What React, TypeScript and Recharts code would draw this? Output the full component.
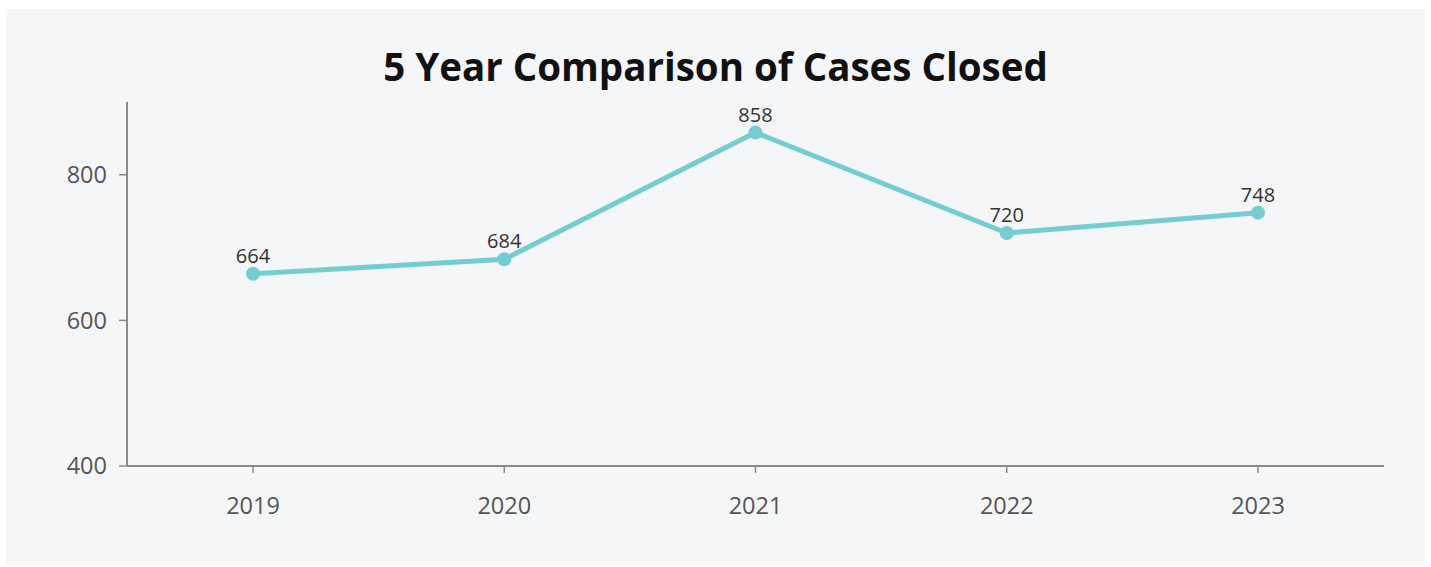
import React from "react";
import { CartesianGrid, LabelList, Line, LineChart, XAxis, YAxis } from "recharts";

const years = ["2019", "2020", "2021", "2022", "2023"];
const casesClosed = [664, 684, 858, 720, 748];
const yTicks = [400, 600, 800];

const data = years.map((year, i) => ({ year, cases: casesClosed[i] }));

const TEAL = "#74cdd0";
const AXIS = "#8a8a8a";
const FONT = "'Open Sans', 'Noto Sans', sans-serif";

export default function App() {
  return (
    <div
      style={{
        position: "fixed",
        left: 0,
        top: 0,
        width: 1431,
        height: 567,
        background: "#ffffff",
        fontFamily: FONT
      }}
    >
      <div
        style={{
          position: "absolute",
          left: 6,
          top: 9,
          width: 1419,
          height: 556,
          background: "#f5f6f8"
        }}
      >
        <div
          style={{
            position: "absolute",
            left: 0,
            top: 32,
            width: 1419,
            textAlign: "center",
            fontSize: 38.5,
            fontWeight: 700,
            color: "#111",
            lineHeight: "50px"
          }}
        >
          5 Year Comparison of Cases Closed
        </div>
        <LineChart
          width={1419}
          height={556}
          data={data}
          margin={{ top: 93, right: 41, bottom: 66, left: 41 }}
          style={{ position: "absolute", left: 0, top: 0 }}
        >
          <CartesianGrid stroke="none" />
          <XAxis
            dataKey="year"
            padding={{ left: 126, right: 126 }}
            stroke={AXIS}
            strokeWidth={2}
            tickSize={7}
            tickMargin={24}
            height={33}
            tick={{ fill: "#555", fontSize: 23.5, fontFamily: FONT }}
            tickLine={{ stroke: AXIS, strokeWidth: 1.5 }}
          />
          <YAxis
            domain={[400, 900]}
            ticks={yTicks}
            width={80}
            stroke={AXIS}
            strokeWidth={2}
            tickSize={8}
            tickMargin={12}
            tick={{ fill: "#555", fontSize: 23.5, fontFamily: FONT }}
            tickLine={{ stroke: AXIS, strokeWidth: 1.5 }}
          />
          <Line
            dataKey="cases"
            type="linear"
            stroke={TEAL}
            strokeWidth={5}
            dot={{ r: 7, fill: TEAL, stroke: TEAL, strokeWidth: 0 }}
            activeDot={false}
            isAnimationActive={false}
          >
            <LabelList
              dataKey="cases"
              position="top"
              offset={11}
              fill="#333"
              fontSize={20}
              fontFamily={FONT}
            />
          </Line>
        </LineChart>
      </div>
    </div>
  );
}
